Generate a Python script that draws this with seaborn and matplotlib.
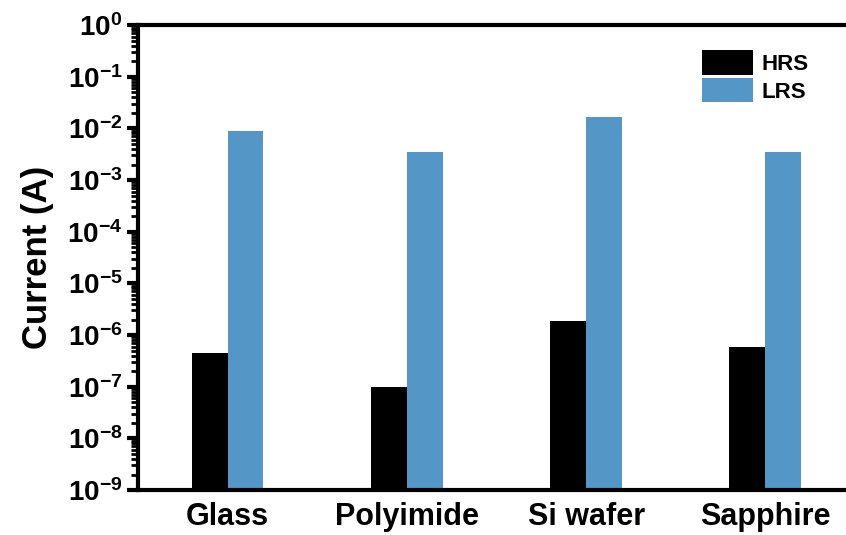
import numpy as np
import pandas as pd
import matplotlib
matplotlib.use("Agg")
import matplotlib.pyplot as plt
import matplotlib.ticker as mticker
import seaborn as sns

substrates = ["Glass", "Polyimide", "Si wafer", "Sapphire"]
hrs_current = [4.5e-7, 1.0e-7, 1.9e-6, 5.9e-7]
lrs_current = [9.0e-3, 3.5e-3, 1.7e-2, 3.5e-3]
states = ["HRS", "LRS"]
ytick_exponents = list(range(-9, 1))

sns.set_style("white")
plt.rcParams["font.family"] = ["Liberation Sans", "DejaVu Sans"]
plt.rcParams["font.weight"] = "bold"
plt.rcParams["text.color"] = "black"
plt.rcParams["axes.labelcolor"] = "black"
plt.rcParams["xtick.color"] = "black"
plt.rcParams["ytick.color"] = "black"
plt.rcParams["mathtext.fontset"] = "custom"
plt.rcParams["mathtext.rm"] = "Liberation Sans:bold"
plt.rcParams["mathtext.it"] = "Liberation Sans:bold"
plt.rcParams["mathtext.bf"] = "Liberation Sans:bold"
plt.rcParams["axes.unicode_minus"] = False

df = pd.DataFrame({
    "Substrate": substrates * 2,
    "Current": hrs_current + lrs_current,
    "State": [states[0]] * len(substrates) + [states[1]] * len(substrates),
})

fig = plt.figure(figsize=(8.46, 5.35), dpi=100)
ax = fig.add_axes([0.163, 0.084, 0.837, 0.869])

sns.barplot(data=df, x="Substrate", y="Current", hue="State",
            palette=["black", "#5497C7"], width=0.4, saturation=1,
            linewidth=0, ax=ax, legend=True)
ax.set_yscale("log")
ax.set_ylim(1e-9, 1)
ax.set_xlim(-0.5, 3.45)

ax.yaxis.set_major_locator(mticker.FixedLocator([10.0 ** e for e in ytick_exponents]))
ax.yaxis.set_major_formatter(mticker.FuncFormatter(
    lambda v, p: r"$\mathbf{10^{%d}}$" % int(round(np.log10(v)))))
ax.yaxis.set_minor_locator(mticker.LogLocator(base=10, subs=np.arange(2, 10), numticks=20))
ax.yaxis.set_minor_formatter(mticker.NullFormatter())

for side in ["left", "bottom", "top"]:
    ax.spines[side].set_linewidth(3)
    ax.spines[side].set_color("black")
ax.spines["right"].set_visible(False)

ax.tick_params(axis="y", which="major", direction="out", length=8, width=3,
               labelsize=20, left=True, pad=3)
ax.tick_params(axis="y", which="minor", direction="out", length=5, width=2, left=True)
ax.tick_params(axis="x", which="both", bottom=False, labelsize=22, pad=5)
for lbl in ax.get_xticklabels():
    lbl.set_fontweight("bold")

ax.set_xlabel("")
ax.set_ylabel("Current (A)", fontsize=25, fontweight="bold", labelpad=10)

leg = ax.legend(loc="upper right", bbox_to_anchor=(0.96, 0.965), frameon=False,
                fontsize=16, handlelength=2.3, handleheight=1.3,
                handletextpad=0.4, labelspacing=0.15, borderaxespad=0)
for t in leg.get_texts():
    t.set_fontweight("bold")
    t.set_color("black")

fig.savefig("out.png", dpi=100)
